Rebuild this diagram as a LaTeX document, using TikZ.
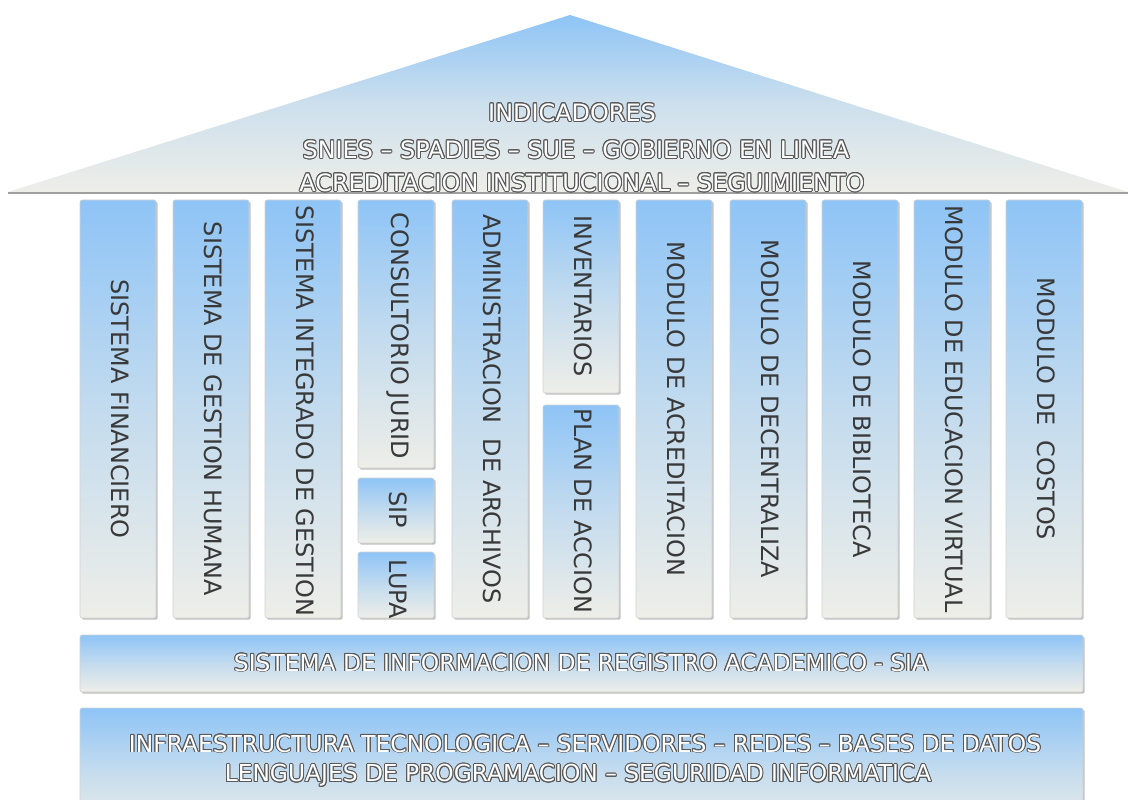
\documentclass[tikz,border=0pt]{standalone}
\usepackage{fontspec}
\setmainfont{DejaVu Sans}
\usepackage{contour}
\contourlength{0.7pt}
\usetikzlibrary{shadows}
\definecolor{skyblue}{HTML}{8EC4F6}
\definecolor{stone}{HTML}{EEEEE8}
\tikzset{
  pillar/.style={draw=gray!35,rounded corners=1.5pt,top color=skyblue,bottom color=stone,middle color=skyblue!45!stone,
    drop shadow={shadow xshift=1.2pt,shadow yshift=-1.2pt,fill=gray!60,opacity=.8}},
  pillar text/.style={rotate=-90,text=gray!45!black,font=\fontsize{17}{20}\selectfont},
  roof text/.style={text=white,font=\fontsize{17}{20}\selectfont},
  bar text/.style={text=white,font=\fontsize{16.6}{20}\selectfont}
}
\begin{document}
\begin{tikzpicture}[x=0.025cm,y=-0.025cm]
  \clip (0,0) rectangle (1128,800);
  \fill[white] (0,0) rectangle (1128,800);
  % roof
  \shade[top color=skyblue,bottom color=stone,middle color=skyblue!35!stone] (8,192) -- (570,15) -- (1128,192) -- cycle;%big triangle
  \draw[gray!75,line width=1.3pt] (8,193) -- (1128,193);%base of roof
  \node[roof text] (ind) at (572,113) {\contour{gray!70!black}{INDICADORES}};
  \node[roof text] (snies) at (576,150) {\contour{gray!70!black}{SNIES – SPADIES – SUE – GOBIERNO EN LINEA}};
  \node[roof text] (acr) at (582,183) {\contour{gray!70!black}{ACREDITACION INSTITUCIONAL – SEGUIMIENTO}};
  % full columns
  \foreach \x/\name/\txt in {80/fin/SISTEMA FINANCIERO,173/hum/SISTEMA DE GESTION HUMANA,
      452/arc/ADMINISTRACION \ DE ARCHIVOS,636/acre/MODULO DE ACREDITACION,730/dec/MODULO DE DECENTRALIZA,
      822/bib/MODULO DE BIBLIOTECA,914/edu/MODULO DE EDUCACION VIRTUAL,1006/cos/MODULO DE \ COSTOS}{
    \draw[pillar] (\x,200) rectangle ++(76,418);
    \node[pillar text] (\name) at (\x+40,409) {\txt};
  }
  % column with cut text
  \draw[pillar] (265,200) rectangle ++(76,418);
  \begin{scope}
    \clip (265,200) rectangle ++(76,418);
    \node[pillar text,anchor=west] (sig) at (305,201) {SISTEMA INTEGRADO DE GESTION};
  \end{scope}
  % split column: juridico, sip, lupa
  \draw[pillar] (358,200) rectangle ++(76,268);
  \node[pillar text] (jur) at (398,336) {CONSULTORIO JURID};
  \draw[pillar] (358,478) rectangle ++(76,65);
  \node[pillar text] (sip) at (398,510) {SIP};
  \draw[pillar] (358,552) rectangle ++(76,66);
  \begin{scope}
    \clip (358,552) rectangle ++(76,66);
    \node[pillar text,anchor=west] (lupa) at (398,555) {LUPA};
  \end{scope}
  % split column: inventarios, plan
  \draw[pillar] (543,200) rectangle ++(76,193);
  \node[pillar text] (inv) at (583,296) {INVENTARIOS};
  \draw[pillar] (543,405) rectangle ++(76,213);
  \node[pillar text] (plan) at (583,511) {PLAN DE ACCION};
  % base bars
  \draw[pillar] (80,635) rectangle (1083,692);%SIA bar
  \node[bar text] (sia) at (581,663) {\contour{gray!70!black}{SISTEMA DE INFORMACION DE REGISTRO ACADEMICO - SIA}};
  \draw[pillar] (80,708) rectangle (1083,830);%infrastructure bar
  \node[bar text] (infra) at (585,744) {\contour{gray!70!black}{INFRAESTRUCTURA TECNOLOGICA – SERVIDORES – REDES – BASES DE DATOS}};
  \node[bar text] (leng) at (578,776) {\contour{gray!70!black}{LENGUAJES DE PROGRAMACION – SEGURIDAD INFORMATICA}};
\end{tikzpicture}
\end{document}
